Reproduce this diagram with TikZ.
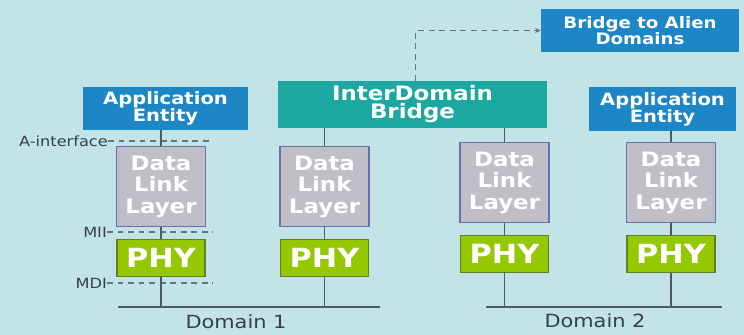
\documentclass[tikz,border=0pt]{standalone}
\usepackage{fontspec}
\setmainfont{DejaVu Sans}[FakeStretch=1.15]
\usetikzlibrary{arrows.meta, positioning}
\definecolor{netbg}{RGB}{194,228,230}
\definecolor{netblue}{RGB}{28,134,198}
\definecolor{netteal}{RGB}{28,168,160}
\definecolor{netgray}{RGB}{192,190,198}
\definecolor{netedge}{RGB}{104,112,172}
\definecolor{netgreen}{RGB}{150,200,0}
\definecolor{netolive}{RGB}{96,128,40}
\definecolor{netline}{RGB}{78,90,100}
\definecolor{nettext}{RGB}{52,64,72}

\begin{document}
\begin{tikzpicture}[x=0.03cm, y=-0.03cm,
    box/.style={rectangle, inner sep=0pt, text=white, align=center},
    appbox/.style={box, fill=netblue, minimum height=1.29cm,
                   font=\bfseries\fontsize{14.5}{14.5}\selectfont},
    bridgebox/.style={box, fill=netteal, minimum width=8.07cm, minimum height=1.41cm,
                      font=\bfseries\fontsize{17}{15.5}\selectfont},
    alienbox/.style={box, fill=netblue, minimum width=5.94cm, minimum height=1.29cm,
                     font=\bfseries\fontsize{13.5}{13.7}\selectfont},
    dllbox/.style={box, fill=netgray, draw=netedge, line width=1.1pt,
                   minimum width=2.67cm, minimum height=2.4cm,
                   font=\bfseries\fontsize{17}{18.3}\selectfont},
    phybox/.style={box, fill=netgreen, draw=netolive, line width=0.9pt,
                   minimum width=2.64cm, minimum height=1.11cm,
                   font=\bfseries\fontsize{22.5}{22.5}\selectfont},
    iflabel/.style={anchor=east, inner sep=0pt, text=nettext,
                    font=\fontsize{12}{12}\selectfont},
    domlabel/.style={inner sep=0pt, text=nettext, font=\fontsize{15.5}{16}\selectfont},
    link/.style={netline, line width=1.4pt},
    ifline/.style={netline!85, line width=1.1pt, dash pattern=on 5pt off 4pt},
    dasharrow/.style={ifline, -{Stealth[length=5pt, width=4.5pt]}},
    node distance=0.36cm
]
\fill[netbg] (0,0) rectangle (744,335);
\useasboundingbox (0,0) rectangle (744,335);

% top row
\node[appbox, minimum width=4.95cm] (appL) at (165.5,108.5) {Application\\Entity};
\node[bridgebox] (bridge) at (412.5,104.5) {InterDomain\\Bridge};
\node[alienbox]  (alien)  at (640,30.5) {Bridge to Alien\\Domains};
\node[appbox, minimum width=4.41cm] (appR) at (662.5,109) {Application\\Entity};

% protocol stacks
\node[dllbox] (dllL)  at (161,186.5) {Data\\Link\\Layer};
\node[dllbox] (dllM1) at (324.5,186.5) {Data\\Link\\Layer};
\node[dllbox] (dllM2) at (504.5,182.5) {Data\\Link\\Layer};
\node[dllbox] (dllR)  at (671,182.5) {Data\\Link\\Layer};
\node[phybox, below=of dllL]  (phyL)  {PHY};
\node[phybox, below=of dllM1] (phyM1) {PHY};
\node[phybox, below=of dllM2] (phyM2) {PHY};
\node[phybox, below=of dllR]  (phyR)  {PHY};

% interface labels
\node[iflabel] (aif) at (108,141) {A-interface};
\node[iflabel] (mii) at (107,232) {MII};
\node[iflabel] (mdi) at (107,283) {MDI};
\draw[ifline] (aif.east) -- ([xshift=0.21cm]aif.east -| dllL.east);
\draw[ifline] (mii.east) -- ([xshift=0.21cm]mii.east -| dllL.east);
\draw[ifline] (mdi.east) -- ([xshift=0.21cm]mdi.east -| dllL.east);

% buses
\coordinate (bus1W) at (118,307);
\coordinate (bus1E) at (380,307);
\coordinate (bus2W) at (486,307);
\coordinate (bus2E) at (722,307);
\draw[link] (bus1W) -- (bus1E);
\draw[link] (bus2W) -- (bus2E);
\node[domlabel] (dom1) at (236,322) {Domain 1};
\node[domlabel] (dom2) at (595,321) {Domain 2};

% vertical links
\draw[link] (appL.south -| dllL) -- (dllL);
\draw[link] (dllL) -- (phyL);
\draw[link] (phyL) -- (phyL |- bus1W);
\draw[link] (bridge.south -| dllM1) -- (dllM1);
\draw[link] (dllM1) -- (phyM1);
\draw[link] (phyM1) -- (phyM1 |- bus1W);
\draw[link] (bridge.south -| dllM2) -- (dllM2);
\draw[link] (dllM2) -- (phyM2);
\draw[link] (phyM2) -- (phyM2 |- bus2W);
\draw[link] (appR.south -| dllR) -- (dllR);
\draw[link] (dllR) -- (phyR);
\draw[link] (phyR) -- (phyR |- bus2W);

% alien domains
\draw[dasharrow] ([xshift=0.1cm]bridge.north) |- (alien.west);
\end{tikzpicture}
\end{document}
